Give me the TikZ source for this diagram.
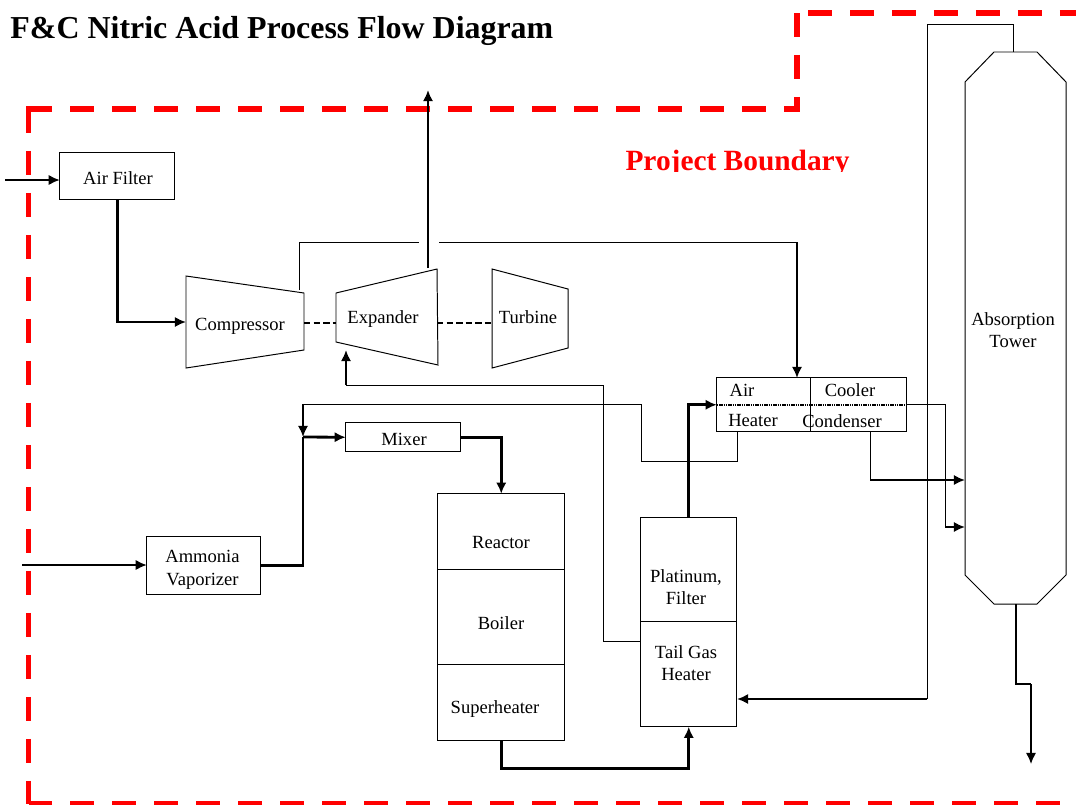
\documentclass[tikz,border=0pt]{standalone}
\usepackage{fontspec}
\setmainfont{Liberation Serif}
\usetikzlibrary{arrows.meta}

\tikzset{
	procbox/.style 2 args={draw, line width=0.7pt, inner sep=0pt, outer sep=0pt, minimum width=#1*0.025cm, minimum height=#2*0.025cm},
	machine/.style={draw, line width=0.7pt},
	pipe/.style={line width=0.65pt},
	feed/.style={line width=1.2pt},
	heavy/.style={line width=2pt},
	shaft/.style={line width=1.5pt, dash pattern=on 4.6pt off 2.2pt},
	boundary/.style={draw=red, line width=4.2pt, dash pattern=on 17.06pt off 12.8pt},
}

\begin{document}
\begin{tikzpicture}[x=0.025cm, y=-0.025cm, every node/.style={font=\fontsize{13.2}{16}\selectfont}, >={Latex[length=2.8mm,width=2.6mm]}]
	\useasboundingbox (0,0) rectangle (1076,804);
	% project boundary
	\draw[boundary] (808,13) -- (1076,13);
	\draw[boundary] (797,13) -- (797,109);
	\draw[boundary] (28.5,109) -- (797,109);
	\draw[boundary] (28.5,109) -- (28.5,804);
	\draw[boundary] (28.5,804) -- (1076,804);
	\fill[red] (25.5,106) rectangle (31.5,112);
	\fill[red] (794,106) rectangle (800,112);
	\node[font=\fontsize{22.7}{26}\selectfont\bfseries, anchor=base west] (title) at (5.5,38) {F\&C Nitric Acid Process Flow Diagram};
	\begin{scope}
		\clip (600,140) rectangle (870,171.7);
		\node[font=\fontsize{20.9}{24}\selectfont\bfseries, text=red, anchor=base] (boundarylabel) at (737.5,170) {Project Boundary};
	\end{scope}

	% boxes
	\node[procbox={115}{47}] (airfilter) at (117.25,176.25) {};
	\node[procbox={114}{58}] (vaporizer) at (203.75,565.75) {};
	\node[procbox={115}{29}] (mixer) at (403.25,437.25) {};
	\node[procbox={127}{76}] (reactor) at (501.25,531.75) {};
	\node[procbox={127}{95}] (boiler) at (501.25,617.25) {};
	\node[procbox={127}{76}] (superheater) at (501.25,702.75) {};
	\node[procbox={96}{104}] (platinum) at (688.75,569.75) {};
	\node[procbox={96}{105}] (tailgas) at (688.75,674.25) {};
	\node[procbox={94}{54}] (airheater) at (763.75,404.75) {};
	\node[procbox={96}{54}] (cooler) at (858.75,404.75) {};

	% tower and machines
	\draw[machine] (965,82) -- (994,52) -- (1037,52) -- (1066,82) -- (1066,575) -- (1037,604) -- (994,604) -- (965,575) -- cycle;
	\draw[machine] (186,276) -- (304,293) -- (304,350) -- (186,368) -- cycle;
	\draw[machine] (336,293) -- (437,269) -- (438,365) -- (336,342) -- cycle;
	\draw[machine] (492,269) -- (568,289) -- (568,348) -- (492,368) -- cycle;

	% labels
	\node (airfiltertext) at (118,178) {Air Filter};
	\node[align=center] (vaporizertext) at (202.5,570) {Ammonia\\Vaporizer};
	\node (mixertext) at (404,439) {Mixer};
	\node (reactortext) at (501,542) {Reactor};
	\node (boilertext) at (501,623) {Boiler};
	\node (superheatertext) at (495,709) {Superheater};
	\node[align=center] (platinumtext) at (686,587) {Platinum,\\Filter};
	\node[align=center] (tailgastext) at (686,663) {Tail Gas\\Heater};
	\node (airtext) at (742,390) {Air};
	\node (heatertext) at (753,421) {Heater};
	\node (coolertext) at (850,390) {Cooler};
	\node (condensertext) at (842,421) {Condenser};
	\node[align=center] (towertext) at (1013,330) {Absorption\\Tower};
	\node (compressor) at (240,326) {Compressor};
	\node (expander) at (383,319) {Expander};
	\node (turbine) at (528,317) {Turbine};

	\coordinate (compin) at (186,322);
	\coordinate (compout) at (304,323);
	\coordinate (compair) at (299,290);
	\coordinate (expin) at (336,323);
	\coordinate (expout) at (437,323);
	\coordinate (expfeed) at (346,350);
	\coordinate (exptop) at (428,268);
	\coordinate (turbin) at (492,323);

	% free ends
	\coordinate (airin) at (5,180);
	\coordinate (ammoniain) at (22,565);
	\coordinate (exhaust) at (428,90);
	\coordinate (product) at (1031,764);
	\coordinate (airgapl) at (419,242);
	\coordinate (airgapr) at (439,242);
	\coordinate (aircorner) at (797,242);
	\coordinate (coolerin) at (797,378);
	\coordinate (tee) at (303,437);
	\coordinate (teetop) at (303,404);
	\coordinate (midline) at (641,404);
	\coordinate (midlow) at (641,461);
	\coordinate (heaterlow) at (737,461);
	\coordinate (heaterout) at (737,432);
	\coordinate (coolerright) at (907,404);
	\coordinate (acidcorner) at (945,404);
	\coordinate (acidin) at (965,527);
	\coordinate (condout) at (870,432);
	\coordinate (condcorner) at (870,480);
	\coordinate (condin) at (965,480);
	\coordinate (towertop) at (1013,52);
	\coordinate (tailtop) at (1013,24);
	\coordinate (tailleft) at (927,24);
	\coordinate (tailin) at (737,699);
	\coordinate (tailmid) at (927,699);
	\coordinate (towerbot) at (1016,604);
	\coordinate (towerjog) at (1031,684);
	\coordinate (feedleft) at (603,641);
	\coordinate (feedtop) at (603,385);
	\coordinate (feedlow) at (346,385);

	% process lines
	\draw[->, feed] (airin) -- (airin -| airfilter.west);
	\draw[->, heavy] (airfilter.south) |- (compin);
	\draw[pipe] (compair) |- (airgapl);
	\draw[pipe] (airgapr) -- (aircorner);
	\draw[->, heavy] (aircorner) -- (coolerin);
	\draw[->, heavy] (exptop) -- (exhaust);
	\draw[shaft] (compout) -- (expin);
	\draw[shaft] (expout) -- (turbin);
	\draw[->, feed] (ammoniain) -- (ammoniain -| vaporizer.west);
	\draw[heavy] (vaporizer.east) -| (tee);
	\draw[->, heavy] (tee) -- (mixer.west);
	\draw[->, heavy] (mixer.east) -| (reactor.north);
	\draw[->, heavy] (teetop) -- (tee);
	\draw[pipe] (teetop) -- (midline) -- (midlow) -- (heaterlow) -- (heaterout);
	\draw[->, heavy] (platinum.north) |- (airheater.west);
	\draw[line width=1.3pt, dash pattern=on 1.2pt off 0.4pt] (airheater.west) -- (cooler.east);
	\draw[pipe] (coolerright) -- (acidcorner) -- (acidcorner |- acidin);
	\draw[->, heavy] (acidcorner |- acidin) -- (acidin);
	\draw[pipe] (condout) -- (condcorner);
	\draw[->, heavy] (condcorner) -- (condin);
	\draw[->, heavy] (superheater.south) -- ++(0,28) -| (tailgas.south);
	\draw[pipe] (towertop) -- (tailtop) -- (tailleft) -- (tailmid);
	\draw[->, heavy] (tailmid) -- (tailin);
	\draw[heavy] (towerbot) |- (towerjog);
	\draw[->, feed] (towerjog) -- (product);
	\draw[pipe] (feedleft) -- (feedtop) -- (feedlow);
	\draw[pipe] (tailgas.north west |- feedleft) -- (feedleft);
	\draw[->, heavy] (feedlow) -- (expfeed);
\end{tikzpicture}
\end{document}
